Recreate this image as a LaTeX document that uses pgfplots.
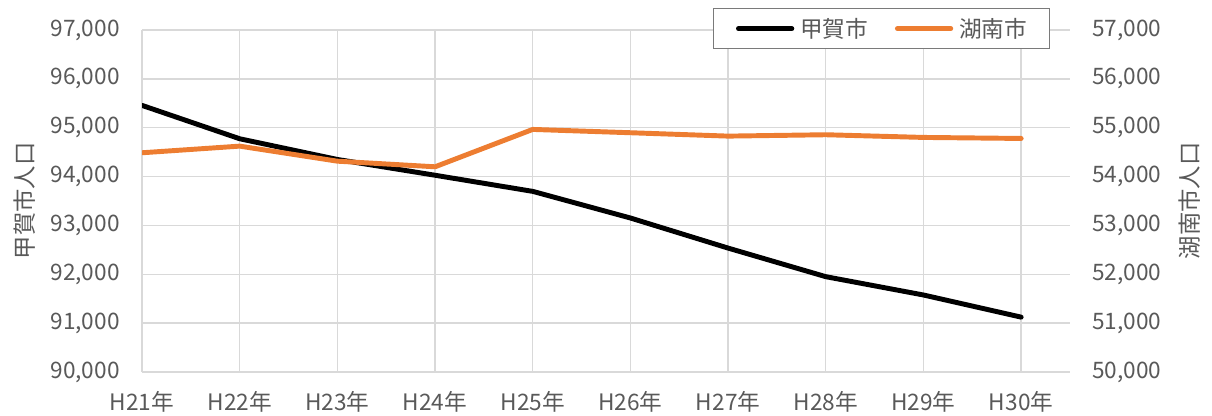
\documentclass[border=0pt]{standalone}
\usepackage{pgfplots}
\pgfplotsset{compat=1.18}
\usepackage{pgfplotstable}
\usepackage{fontspec}
\setmainfont{Noto Sans CJK JP}
\definecolor{txt}{HTML}{595959}
\definecolor{gridc}{HTML}{D9D9D9}
\definecolor{orng}{HTML}{ED7D31}
\pgfplotstableread{
x koka konan
0 95457 54487
1 94774 54623
2 94350 54315
3 94027 54200
4 93697 54965
5 93152 54897
6 92536 54828
7 91951 54856
8 91576 54801
9 91123 54780
}\data
\pgfplotsset{
  common/.style={
    scale only axis, width=696pt, height=256.5pt,
    at={(106.5pt,33pt)}, anchor=south west,
    xmin=0, xmax=9.5,
    axis line style={draw=none},
    major tick length=0pt,
    tick label style={font=\fontsize{17}{20}\selectfont, text=txt},
    /pgf/number format/assume math mode=true,
    /pgf/number format/fixed,
    /pgf/number format/1000 sep={,},
    scaled y ticks=false,
  }
}
\begin{document}
\begin{tikzpicture}
\useasboundingbox (0,0) rectangle (909pt,312pt);
\begin{axis}[common,
  ymin=90000, ymax=97000, ytick={90000,91000,...,97000},
  xtick={0,...,9},
  xticklabels={H21年,H22年,H23年,H24年,H25年,H26年,H27年,H28年,H29年,H30年},
  xticklabel style={anchor=north, inner sep=0pt, yshift=-14pt},
  yticklabel style={anchor=east, inner sep=0pt, xshift=-16.5pt},
  grid=major, major grid style={color=gridc, line width=1pt},
  ylabel={甲賀市人口},
  ylabel style={at={(axis description cs:-0.1261,0.5)}, anchor=center,
    font=\fontsize{17.5}{20}\selectfont, text=txt},
]
\addplot[black, line width=3.7pt, line join=round, line cap=round] table[x=x,y=koka]{\data};
\end{axis}
\begin{axis}[common,
  ymin=50000, ymax=57000, ytick={50000,51000,...,57000},
  hide x axis,
  yticklabel pos=right,
  yticklabel style={anchor=west, inner sep=0pt, xshift=16.5pt},
  ylabel={湖南市人口},
  ylabel style={at={(axis description cs:1.1293,0.5)}, anchor=center,
    font=\fontsize{17.5}{20}\selectfont, text=txt},
  legend columns=2,
  legend style={at={(0.797,1.004)}, anchor=center, draw=txt!80, line width=0.8pt, fill=white,
    inner xsep=17pt, inner ysep=7pt,
    font=\fontsize{17}{20}\selectfont, text=txt,
    nodes={inner sep=0pt},
    /tikz/every odd column/.append style={column sep=4.5pt},
    /tikz/every even column/.append style={column sep=20pt}},
  legend image code/.code={\draw[#1, line cap=round] (0pt,0pt) -- (40pt,0pt);},
]
\addlegendimage{black, line width=3.7pt}
\addlegendentry{甲賀市}
\addplot[orng, line width=3.7pt, line join=round, line cap=round] table[x=x,y=konan]{\data};
\addlegendentry{湖南市}
\end{axis}
\end{tikzpicture}
\end{document}
